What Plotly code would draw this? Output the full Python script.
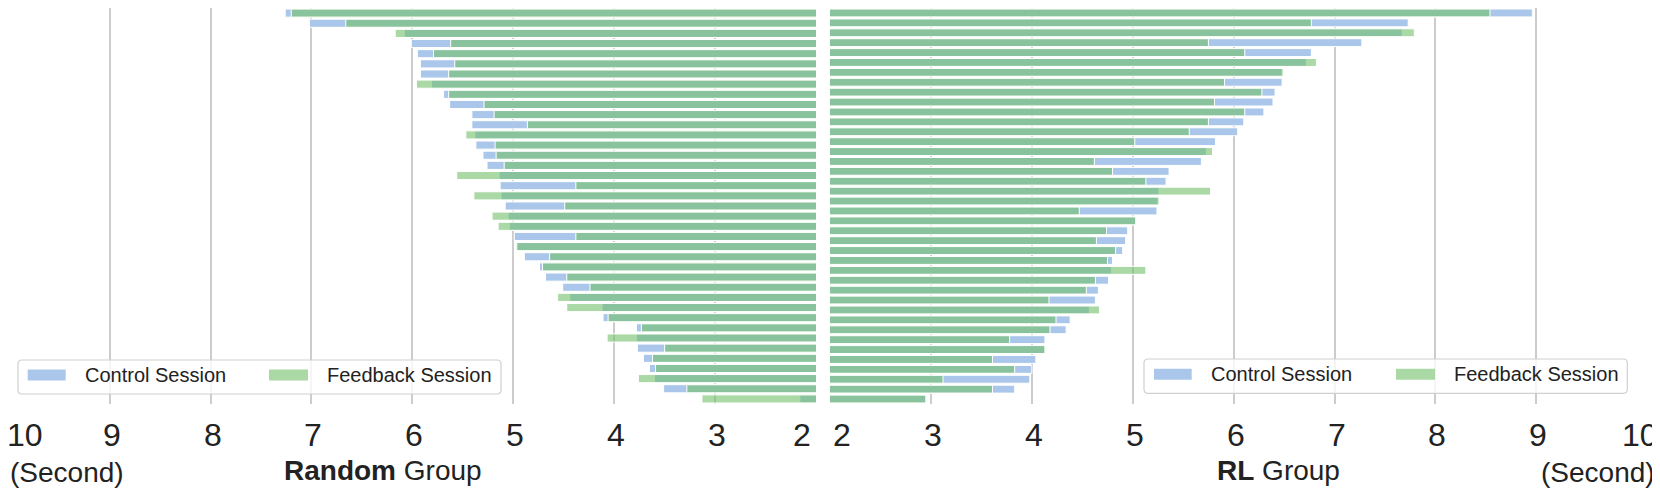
import plotly.graph_objects as go

# reaction times in seconds, one row per participant (sorted by control time)
random_control = [7.26, 7.02, 6.08, 6.01, 5.95, 5.92, 5.92, 5.81, 5.69, 5.63,
                  5.41, 5.41, 5.38, 5.37, 5.30, 5.26, 5.14, 5.13, 5.12, 5.08,
                  5.05, 5.04, 4.99, 4.96, 4.89, 4.74, 4.68, 4.51, 4.44, 4.12,
                  4.11, 3.78, 3.78, 3.77, 3.71, 3.65, 3.60, 3.51, 2.16]
random_feedback = [7.20, 6.66, 6.17, 5.62, 5.79, 5.58, 5.64, 5.96, 5.64, 5.29,
                   5.19, 4.86, 5.47, 5.18, 5.17, 5.09, 5.56, 4.38, 5.39, 4.49,
                   5.21, 5.15, 4.38, 4.97, 4.64, 4.71, 4.47, 4.24, 4.56, 4.47,
                   4.06, 3.73, 4.07, 3.50, 3.62, 3.59, 3.76, 3.28, 3.13]
rl_control = [8.96, 7.73, 7.67, 7.27, 6.77, 6.72, 6.48, 6.48, 6.41, 6.39,
              6.30, 6.10, 6.04, 5.82, 5.73, 5.68, 5.36, 5.33, 5.26, 5.25,
              5.24, 5.03, 4.95, 4.93, 4.90, 4.80, 4.79, 4.76, 4.66, 4.63,
              4.57, 4.38, 4.34, 4.13, 4.13, 4.04, 4.00, 3.98, 3.83, 2.95]
rl_feedback = [8.54, 6.77, 7.79, 5.75, 6.11, 6.82, 6.49, 5.91, 6.28, 5.81,
               6.11, 5.75, 5.56, 5.02, 5.79, 4.62, 4.80, 5.13, 5.77, 5.26,
               4.47, 5.03, 4.74, 4.64, 4.83, 4.75, 5.13, 4.63, 4.54, 4.17,
               4.67, 4.24, 4.18, 3.78, 4.13, 3.61, 3.83, 3.12, 3.61, 2.95]
tick_values = [10, 9, 8, 7, 6, 5, 4, 3, 2]

# the page body has an 8px margin, so the figure sits at (8, 8) in the window
OFF = 8
W, H = 1660 - OFF, 489 - OFF
PLOT_BOTTOM = 404          # window px
PLOT_H = PLOT_BOTTOM - OFF
FONT = "Liberation Sans, Arial, sans-serif"
TEXT = "#222222"
BLUE = "#aac7eb"
GREEN = "rgba(113,192,105,0.6)"
GRID = "#cccccc"


def px_x(p):
    """window x pixel -> paper x"""
    return (p - OFF) / W


def px_y(p):
    """window y pixel -> paper y"""
    return (PLOT_BOTTOM - p) / PLOT_H


def add_group(fig, control, feedback, xa, ya):
    rows = list(range(len(control)))
    fig.add_trace(go.Bar(y=rows, x=control, base=0, orientation="h", width=0.8,
                         marker=dict(color=BLUE, line=dict(color="white", width=1)),
                         xaxis=xa, yaxis=ya, showlegend=False, name="Control Session"))
    fig.add_trace(go.Bar(y=rows, x=feedback, base=0, orientation="h", width=0.8,
                         marker=dict(color=GREEN, line=dict(color="white", width=1)),
                         xaxis=xa, yaxis=ya, showlegend=False, name="Feedback Session"))


def rounded_box(x0, y0, x1, y1, r=4):
    rx, ry = r / W, r / PLOT_H
    a, b = px_x(x0), px_x(x1)
    top, bot = px_y(y0), px_y(y1)
    return (f"M {a + rx},{top} L {b - rx},{top} Q {b},{top} {b},{top - ry} "
            f"L {b},{bot + ry} Q {b},{bot} {b - rx},{bot} L {a + rx},{bot} "
            f"Q {a},{bot} {a},{bot + ry} L {a},{top - ry} Q {a},{top} {a + rx},{top} Z")


def add_legend(fig, box, blue_x, green_x, text_x, cy):
    fig.add_shape(type="path", path=rounded_box(*box), xref="paper", yref="paper",
                  fillcolor="rgba(255,255,255,0.8)", line=dict(color="#d0d0d0", width=1.2),
                  layer="above")
    for (p0, p1), color in zip([blue_x, green_x], [BLUE, GREEN]):
        fig.add_shape(type="rect", xref="paper", yref="paper",
                      x0=px_x(p0), x1=px_x(p1), y0=px_y(cy + 5.5), y1=px_y(cy - 5.5),
                      fillcolor=color, line=dict(width=0), layer="above")
    for tx, label in zip(text_x, ["Control Session", "Feedback Session"]):
        fig.add_annotation(x=px_x(tx), y=px_y(cy), xref="paper", yref="paper",
                           text=label, showarrow=False, xanchor="left", yanchor="middle",
                           font=dict(size=20, color=TEXT, family=FONT))


fig = go.Figure()
add_group(fig, random_control, random_feedback, "x", "y")
add_group(fig, rl_control, rl_feedback, "x2", "y2")

axis_common = dict(showgrid=True, gridcolor=GRID, gridwidth=1.6, showticklabels=False,
                   zeroline=False, showline=False, ticks="", tickvals=tick_values[:-1])
fig.update_layout(
    width=W, height=H,
    margin=dict(l=0, r=0, t=0, b=H - PLOT_H),
    paper_bgcolor="white", plot_bgcolor="white",
    barmode="overlay",
    font=dict(family=FONT, color=TEXT),
    xaxis=dict(domain=[px_x(8.7), px_x(816)], range=[10, 2], anchor="y", **axis_common),
    yaxis=dict(domain=[0, 1], range=[len(random_control) - 0.5, -0.5], visible=False, anchor="x"),
    xaxis2=dict(domain=[px_x(830), px_x(1637.3)], range=[2, 10], anchor="y2", **axis_common),
    yaxis2=dict(domain=[0, 1], range=[len(rl_control) - 0.5, -0.5], visible=False, anchor="x2"),
)

# tick labels, the edge ones nudged inward
tick_font = dict(size=32, color=TEXT, family=FONT)
left_shift = {2: -14}
right_shift = {2: 12, 10: 3}
for xref, shifts in [("x", left_shift), ("x2", right_shift)]:
    for v in tick_values:
        if xref == "x" and v == 10:
            # outermost left label kept inside the page
            fig.add_annotation(x=0, y=0, xref="paper", yref="paper", text=str(v),
                               showarrow=False, xanchor="left", yanchor="middle",
                               yshift=-31, xshift=-3, font=tick_font)
            continue
        fig.add_annotation(x=v, y=0, xref=xref, yref="paper", text=str(v), showarrow=False,
                           xanchor="center", yanchor="middle", yshift=-31,
                           xshift=shifts.get(v, 2), font=tick_font)

fig.add_annotation(x=0, y=0, xref="paper", yref="paper", text="(Second)", showarrow=False,
                   xanchor="left", yanchor="middle", yshift=-68,
                   font=dict(size=28, family=FONT))
fig.add_annotation(x=1, y=0, xref="paper", yref="paper", text="(Second)", showarrow=False,
                   xanchor="right", yanchor="middle", yshift=-68, xshift=-3,
                   font=dict(size=28, family=FONT))
fig.add_annotation(x=px_x(382.7), y=0, xref="paper", yref="paper", text="<b>Random</b> Group",
                   showarrow=False, xanchor="center", yanchor="middle", yshift=-66,
                   font=dict(size=28, family=FONT))
fig.add_annotation(x=px_x(1278.7), y=0, xref="paper", yref="paper", text="<b>RL</b> Group",
                   showarrow=False, xanchor="center", yanchor="middle", yshift=-66,
                   font=dict(size=28, family=FONT))

add_legend(fig, (18, 360, 501, 394), (27.7, 65.7), (269, 308), (82.7, 325), 375)
add_legend(fig, (1144, 359, 1627.3, 393.3), (1154, 1191.7), (1396, 1435), (1209.3, 1451.7), 374.3)

fig.write_html("out.html")
